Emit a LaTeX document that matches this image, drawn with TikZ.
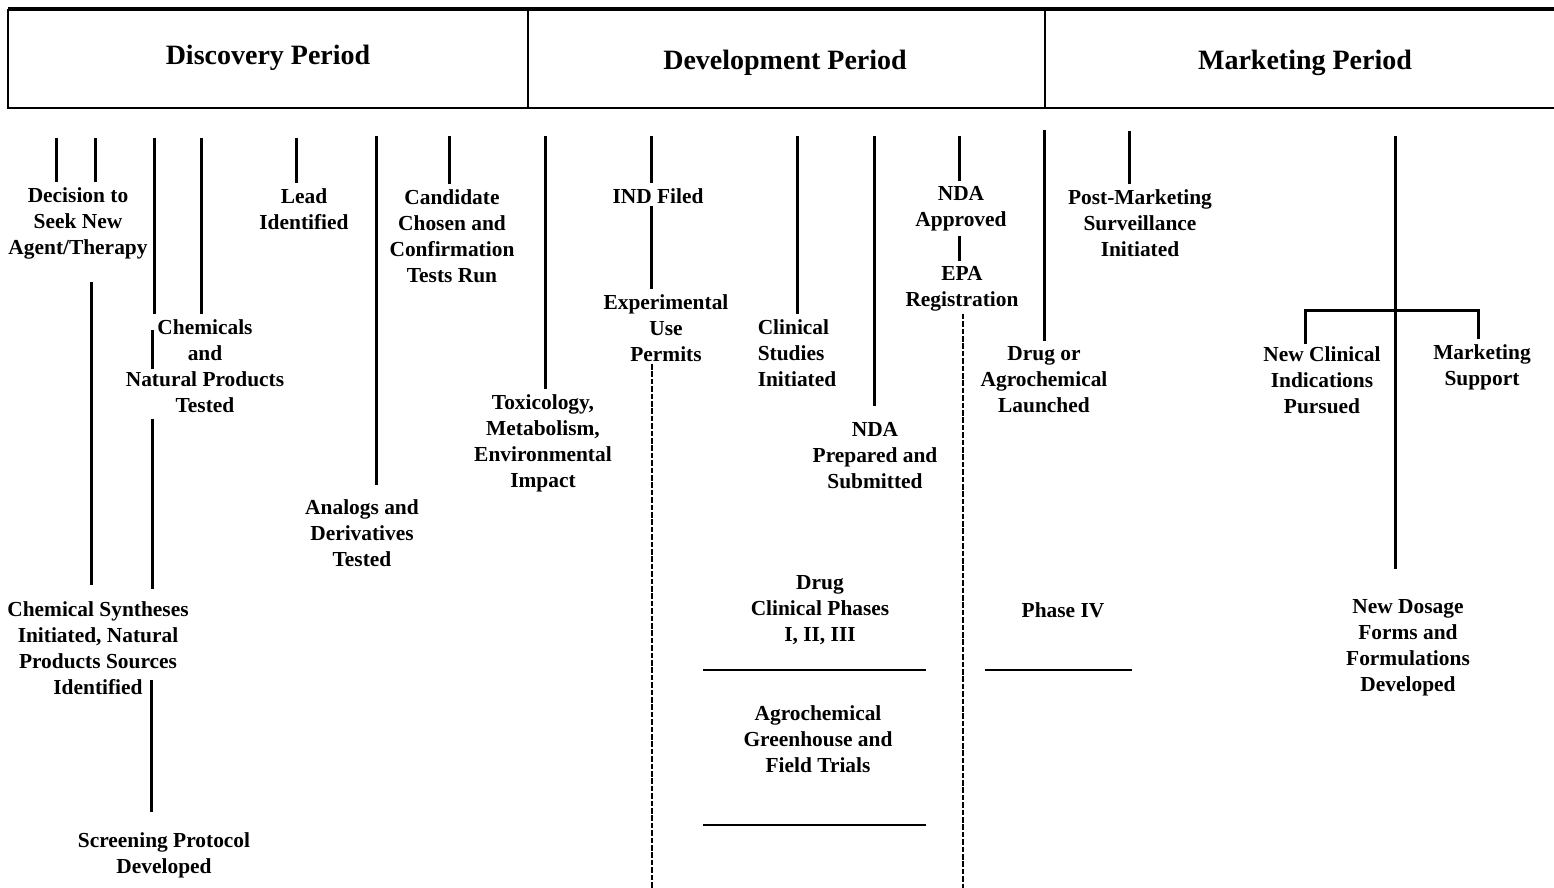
\documentclass[tikz,border=0pt]{standalone}
\usepackage{fontspec}
\setmainfont{Liberation Serif}
\usetikzlibrary{positioning}

\begin{document}
\begin{tikzpicture}[x=0.5pt,y=-0.5pt,
 lbl/.style={align=center,font=\bfseries\fontsize{10.7}{13}\selectfont,inner sep=1pt},
 head/.style={font=\bfseries\fontsize{14}{17}\selectfont},
 bar/.style={line width=1.5pt,shorten >=1.5pt},
 dashbar/.style={line width=1.3pt,dash pattern=on 2.8pt off 0.9pt},
 rule/.style={line width=1.1pt}]
 \useasboundingbox (0,0) rectangle (1554,888);
 % header
 \node[head] (disc) at (268,58) {Discovery Period};
 \node[head] (devp) at (785,63) {Development Period};
 \node[head] (mktp) at (1305,63) {Marketing Period};
 \draw[line width=1.6pt] (1554,9) -- (8,9);
 \draw[line width=1pt] (8,9) -- (8,108) -- (1554,108);
 \draw[line width=1pt] (528,9) -- (528,108) (1045,9) -- (1045,108);
 % discovery events
 \node[lbl] (dec) at (78,223) {Decision to\\Seek New\\Agent/Therapy};
 \node[lbl] (lead) at (304,209) {Lead\\Identified};
 \node[lbl] (cand) at (452,236) {Candidate\\Chosen and\\Confirmation\\Tests Run};
 \node[lbl] (chem) at (205,366) {Chemicals\\and\\Natural Products\\Tested};
 \node[lbl] (synth) at (98,648) {Chemical Syntheses\\Initiated, Natural\\Products Sources\\Identified};
 \node[lbl] (screen) at (164,855) {Screening Protocol\\Developed};
 \node[lbl] (analog) at (362,533) {Analogs and\\Derivatives\\Tested};
 \node[lbl] (tox) at (543,443) {Toxicology,\\Metabolism,\\Environmental\\Impact};
 % development events
 \node[lbl] (ind) at (658,196) {IND Filed};
 \node[lbl] (exp) at (666,328) {Experimental\\Use\\Permits};
 \node[lbl,align=left] (clin) at (797,353) {Clinical\\Studies\\Initiated};
 \node[lbl] (ndap) at (875,456) {NDA\\Prepared and\\Submitted};
 \node[lbl] (ndaa) at (961,209) {NDA\\Approved};
 \node[lbl] (epa) at (962,289) {EPA\\Registration};
 \node[lbl] (drugph) at (820,610) {Drug\\Clinical Phases\\I, II, III};
 \node[lbl] (agro) at (818,739) {Agrochemical\\Greenhouse and\\Field Trials};
 % marketing events
 \node[lbl] (launch) at (1044,380) {Drug or\\Agrochemical\\Launched};
 \node[lbl] (pms) at (1140,223) {Post-Marketing\\Surveillance\\Initiated};
 \node[lbl] (newci) at (1322,380) {New Clinical\\Indications\\Pursued};
 \node[lbl] (msup) at (1482,367) {Marketing\\Support};
 \node[lbl] (dosage) at (1408,648) {New Dosage\\Forms and\\Formulations\\Developed};
 \node[lbl] (ph4) at (1063,610) {Phase IV};

 % top row of the time bars
 \foreach \n/\x/\y in {s1/56/138,s2/95/138,s3/154/138,s4/201/138,s5/296/138,
   s6/376/136,s7/449/136,s8/545/136,s9/651/136,s10/797/136,s11/874/136,
   s12/959/136,s13/1044/130,s14/1129/131,s15/1395/136}
  \coordinate (\n) at (\x,\y);
 \coordinate (v1) at (91,282);
 \coordinate (v2) at (152,330);
 \coordinate (v3) at (151,680);
 \coordinate (d1) at (652,888);
 \coordinate (d2) at (963,888);
 \coordinate (bl) at (1305,310);
 \coordinate (br) at (1478,310);

 \draw[bar] (s1) -- (s1 |- dec.north);
 \draw[bar] (s2) -- (s2 |- dec.north);
 \draw[bar] (s3) -- (s3 |- chem.north);
 \draw[bar] (s4) -- (s4 |- chem.north);
 \draw[bar] (s5) -- (s5 |- lead.north);
 \draw[bar,shorten >=6pt] (s6) -- (s6 |- analog.north);
 \draw[bar] (s7) -- (s7 |- cand.north);
 \draw[bar] (s8) -- (s8 |- tox.north);
 \draw[bar] (s9) -- (s9 |- ind.north);
 \draw[bar] (s9 |- ind.south) -- (s9 |- exp.north);
 \draw[bar] (s10) -- (s10 |- clin.north);
 \draw[bar,shorten >=7pt] (s11) -- (s11 |- ndap.north);
 \draw[bar] (s12) -- (s12 |- ndaa.north);
 \draw[bar,shorten <=1pt] (s12 |- ndaa.south) -- (s12 |- epa.north);
 \draw[bar] (s13) -- (s13 |- launch.north);
 \draw[bar] (s14) -- (s14 |- pms.north);
 \draw[bar,shorten >=14pt] (s15) -- (s15 |- dosage.north);
 \draw[bar] (bl |- newci.north) -- (bl) -- (br) -- (br |- msup.north);
 \draw[bar,shorten >=7pt] (v1) -- (v1 |- synth.north);
 \draw[bar] (v2) -- ++(0,42);
 \draw[bar,shorten <=2pt,shorten >=5pt] (v2 |- chem.south) -- (v2 |- synth.north);
 \draw[bar,shorten >=9pt] (v3) -- (v3 |- screen.north);
 \draw[dashbar] (d1 |- exp.south) -- (d1);
 \draw[dashbar] (d2 |- epa.south) -- (d2);
 % table rules
 \coordinate (r1a) at (703,670); \coordinate (r1b) at (926,670);
 \coordinate (r2a) at (703,825); \coordinate (r2b) at (926,825);
 \coordinate (r3a) at (985,670); \coordinate (r3b) at (1132,670);
 \draw[rule] (r1a) -- (r1b);
 \draw[rule] (r2a) -- (r2b);
 \draw[rule] (r3a) -- (r3b);
\end{tikzpicture}
\end{document}
